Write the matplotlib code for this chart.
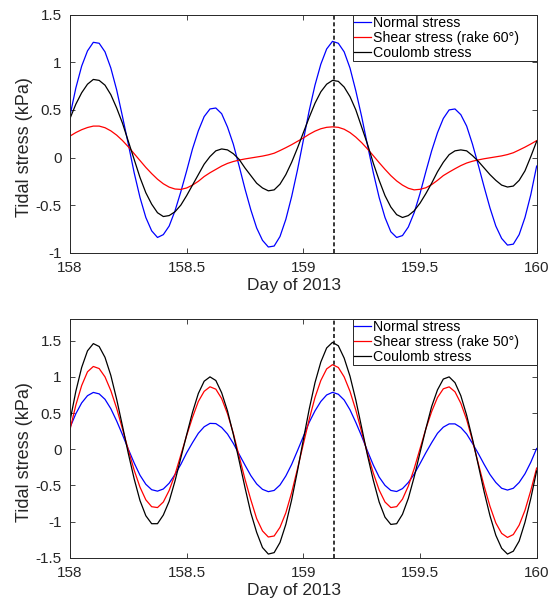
import numpy as np
import matplotlib
matplotlib.use("Agg")
import matplotlib.pyplot as plt

plt.rcParams["font.family"] = ["Liberation Sans", "DejaVu Sans"]
plt.rcParams["axes.unicode_minus"] = False
plt.rcParams["lines.scale_dashes"] = False

day = np.linspace(158, 160, 81)
event_day = 159.13

normal_60 = [
    0.44, 0.73, 0.96, 1.12, 1.21,
    1.20, 1.11, 0.94, 0.71, 0.43,
    0.14, -0.16, -0.42, -0.63, -0.77,
    -0.84, -0.81, -0.72, -0.56, -0.36,
    -0.14, 0.09, 0.28, 0.43, 0.51,
    0.52, 0.46, 0.32, 0.14, -0.09,
    -0.33, -0.55, -0.74, -0.87, -0.94,
    -0.93, -0.83, -0.65, -0.41, -0.13,
    0.18, 0.49, 0.76, 0.98, 1.14,
    1.22, 1.20, 1.11, 0.94, 0.70,
    0.43, 0.13, -0.16, -0.42, -0.63,
    -0.78, -0.84, -0.82, -0.73, -0.58,
    -0.38, -0.15, 0.07, 0.26, 0.41,
    0.50, 0.51, 0.45, 0.33, 0.14,
    -0.08, -0.31, -0.53, -0.72, -0.85,
    -0.92, -0.91, -0.81, -0.63, -0.39,
    -0.09]
shear_60 = [
    0.225, 0.262, 0.292, 0.315, 0.330,
    0.330, 0.313, 0.280, 0.235, 0.178,
    0.112, 0.040, -0.032, -0.104, -0.169,
    -0.228, -0.276, -0.311, -0.331, -0.335,
    -0.32, -0.29, -0.25, -0.20, -0.16,
    -0.125, -0.09, -0.062, -0.042, -0.027,
    -0.015, -0.005, 0.005, 0.015, 0.028,
    0.045, 0.073, 0.103, 0.135, 0.17,
    0.205, 0.244, 0.277, 0.302, 0.317,
    0.322, 0.317, 0.297, 0.262, 0.214,
    0.156, 0.090, 0.019, -0.054, -0.124,
    -0.190, -0.246, -0.290, -0.323, -0.340,
    -0.334, -0.318, -0.285, -0.24, -0.19,
    -0.153, -0.118, -0.085, -0.058, -0.039,
    -0.025, -0.013, -0.003, 0.007, 0.017,
    0.031, 0.05, 0.079, 0.109, 0.142,
    0.177]
coulomb_60 = [
    0.41, 0.56, 0.68, 0.77, 0.82,
    0.81, 0.76, 0.66, 0.52, 0.36,
    0.17, -0.02, -0.21, -0.37, -0.49,
    -0.58, -0.62, -0.61, -0.57, -0.50,
    -0.40, -0.29, -0.18, -0.07, 0.01,
    0.07, 0.09, 0.08, 0.04, -0.02,
    -0.11, -0.19, -0.27, -0.32, -0.35,
    -0.34, -0.28, -0.18, -0.05, 0.10,
    0.26, 0.42, 0.57, 0.69, 0.77,
    0.81, 0.80, 0.74, 0.64, 0.50,
    0.32, 0.14, -0.06, -0.24, -0.40,
    -0.52, -0.60, -0.63, -0.61, -0.56,
    -0.48, -0.38, -0.27, -0.15, -0.05,
    0.03, 0.07, 0.08, 0.07, 0.02,
    -0.04, -0.11, -0.18, -0.24, -0.29,
    -0.31, -0.30, -0.24, -0.14, 0.01,
    0.17]

normal_50 = [
    0.30, 0.49, 0.64, 0.74, 0.785,
    0.765, 0.69, 0.56, 0.39, 0.20,
    0.00, -0.19, -0.36, -0.485, -0.56,
    -0.58, -0.55, -0.47, -0.35, -0.21,
    -0.05, 0.09, 0.22, 0.31, 0.357,
    0.354, 0.30, 0.21, 0.08, -0.07,
    -0.22, -0.365, -0.48, -0.555, -0.587,
    -0.57, -0.495, -0.37, -0.21, -0.02,
    0.175, 0.37, 0.53, 0.66, 0.75,
    0.786, 0.76, 0.68, 0.545, 0.37,
    0.18, -0.025, -0.22, -0.385, -0.50,
    -0.57, -0.585, -0.545, -0.46, -0.345,
    -0.20, -0.05, 0.09, 0.22, 0.305,
    0.35, 0.35, 0.30, 0.21, 0.08,
    -0.06, -0.21, -0.35, -0.46, -0.54,
    -0.565, -0.54, -0.46, -0.34, -0.18,
    0.01]
shear_50 = [
    0.27, 0.61, 0.88, 1.07, 1.144,
    1.115, 1.00, 0.81, 0.565, 0.28,
    -0.01, -0.29, -0.525, -0.70, -0.795,
    -0.807, -0.73, -0.57, -0.35, -0.08,
    0.19, 0.44, 0.66, 0.80, 0.863,
    0.83, 0.70, 0.49, 0.22, -0.10,
    -0.415, -0.70, -0.96, -1.13, -1.214,
    -1.20, -1.08, -0.88, -0.60, -0.27,
    0.07, 0.41, 0.715, 0.95, 1.11,
    1.169, 1.13, 1.00, 0.80, 0.54,
    0.24, -0.06, -0.33, -0.565, -0.73,
    -0.807, -0.794, -0.69, -0.51, -0.27,
    0.005, 0.28, 0.52, 0.715, 0.835,
    0.862, 0.794, 0.635, 0.41, 0.12,
    -0.20, -0.51, -0.79, -1.02, -1.164,
    -1.22, -1.18, -1.05, -0.845, -0.57,
    -0.26]
coulomb_50 = [
    0.39, 0.80, 1.13, 1.36, 1.46,
    1.42, 1.27, 1.02, 0.69, 0.32,
    -0.06, -0.41, -0.71, -0.92, -1.03,
    -1.03, -0.91, -0.72, -0.44, -0.12,
    0.20, 0.51, 0.77, 0.94, 1.00,
    0.95, 0.78, 0.53, 0.205, -0.16,
    -0.53, -0.88, -1.15, -1.36, -1.45,
    -1.43, -1.29, -1.04, -0.70, -0.30,
    0.13, 0.55, 0.92, 1.205, 1.40,
    1.477, 1.43, 1.26, 1.01, 0.68,
    0.30, -0.085, -0.43, -0.73, -0.94,
    -1.04, -1.03, -0.90, -0.68, -0.385,
    -0.05, 0.28, 0.59, 0.82, 0.97,
    1.00, 0.92, 0.74, 0.47, 0.14,
    -0.22, -0.59, -0.92, -1.19, -1.37,
    -1.45, -1.41, -1.27, -1.01, -0.68,
    -0.30]

x_ticks = [158, 158.5, 159, 159.5, 160]
x_tick_labels = ["158", "158.5", "159", "159.5", "160"]
top_y_ticks = [-1, -0.5, 0, 0.5, 1, 1.5]
top_y_labels = ["-1", "-0.5", "0", "0.5", "1", "1.5"]
bottom_y_ticks = [-1.5, -1, -0.5, 0, 0.5, 1, 1.5]
bottom_y_labels = ["-1.5", "-1", "-0.5", "0", "0.5", "1", "1.5"]

panels = [
    (normal_60, shear_60, coulomb_60, "Shear stress (rake 60\u00b0)",
     (-1, 1.5), top_y_ticks, top_y_labels),
    (normal_50, shear_50, coulomb_50, "Shear stress (rake 50\u00b0)",
     (-1.5, 1.8), bottom_y_ticks, bottom_y_labels),
]

INK = "#262626"

fig = plt.figure(figsize=(5.49, 6.05), dpi=100)
axes = [
    fig.add_axes([0.1275, 0.5823, 0.850, 0.3934]),
    fig.add_axes([0.1275, 0.0782, 0.850, 0.3945]),
]

for ax, (normal, shear, coulomb, shear_label, ylim, yt, ytl) in zip(axes, panels):
    ax.plot(day, normal, color="blue", lw=0.9, label="Normal stress")
    ax.plot(day, shear, color="red", lw=0.9, label=shear_label)
    ax.plot(day, coulomb, color="black", lw=0.9, label="Coulomb stress")
    ax.axvline(event_day, color="black", lw=1.1, linestyle=(0, (2.9, 1.9)))

    ax.set_xlim(158, 160)
    ax.set_ylim(*ylim)
    ax.set_xticks(x_ticks, labels=x_tick_labels)
    ax.set_yticks(yt, labels=ytl)
    ax.tick_params(direction="in", top=True, right=True, length=3.6,
                   width=0.6, labelsize=11, pad=6, colors=INK)
    for spine in ax.spines.values():
        spine.set_color(INK)
        spine.set_linewidth(0.7)

    ax.set_xlabel("Day of 2013", fontsize=12.5, color=INK)
    ax.set_ylabel("Tidal stress (kPa)", fontsize=13, color=INK)
    ax.xaxis.set_label_coords(0.479, -0.105)
    ax.yaxis.set_label_coords(-0.08, 0.442)

    leg = ax.legend(loc="upper right", bbox_to_anchor=(0.6058, 0, 0.3942, 1.0),
                    mode="expand", borderaxespad=0, fancybox=False,
                    framealpha=1, edgecolor=INK, fontsize=10.2,
                    handlelength=1.2, handletextpad=0.1, borderpad=0.1,
                    labelspacing=0.05)
    leg.get_frame().set_linewidth(0.7)

fig.savefig("out.png", dpi=100)
